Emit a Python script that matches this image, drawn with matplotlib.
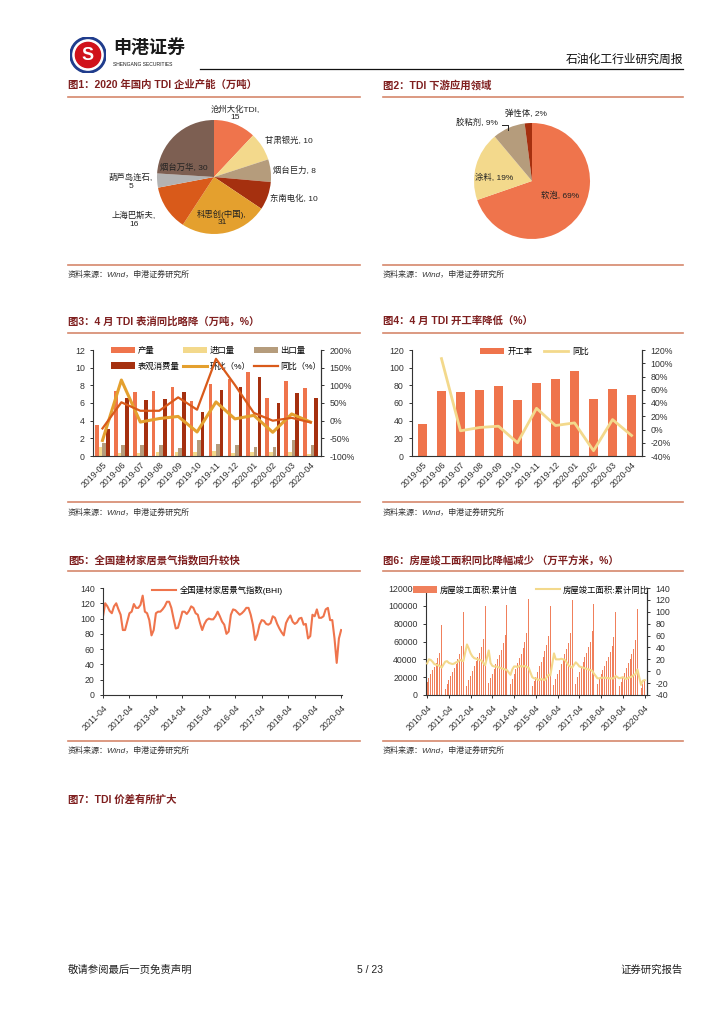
import numpy as np
import matplotlib
matplotlib.use('Agg')
import matplotlib.pyplot as plt
from matplotlib.lines import Line2D
from matplotlib.patches import Circle

plt.rcParams['font.family'] = ['Liberation Sans', 'Noto Sans CJK SC']
plt.rcParams['axes.unicode_minus'] = False

W, H = 724, 1024

# ---- data ----
cap_names = ['沧州大化TDI', '甘肃银光', '烟台巨力', '东南电化', '科思创(中国)', '上海巴斯夫', '葫芦岛连石', '烟台万华']
cap_vals = [15, 10, 8, 10, 31, 16, 5, 30]

use_names = ['软泡', '涂料', '胶粘剂', '弹性体']
use_vals = [69, 19, 9, 2]

months = ['2019-05', '2019-06', '2019-07', '2019-08', '2019-09', '2019-10',
          '2019-11', '2019-12', '2020-01', '2020-02', '2020-03', '2020-04']
output = [3.5, 7.4, 7.2, 7.4, 7.8, 6.2, 8.2, 8.7, 9.5, 6.6, 8.5, 7.7]
imports = [1.0, 0.3, 0.3, 0.4, 0.4, 0.5, 0.6, 0.3, 0.4, 0.4, 0.4, 0.2]
exports = [1.5, 1.2, 1.3, 1.2, 0.9, 1.8, 1.4, 1.2, 1.0, 1.0, 1.8, 1.2]
consumption = [3.1, 6.6, 6.3, 6.5, 7.3, 5.0, 7.5, 7.8, 8.9, 6.0, 7.1, 6.6]
mom = [-56, 115, -4, 6, 12, -32, 53, 5, 15, -33, 19, -4]
yoy = [-22, 52, 28, 28, 66, 31, 175, 101, 22, 0, 8, -5]

run_rate = [36, 74, 72, 75, 79, 63, 83, 87, 96, 65, 76, 69]
run_yoy = [np.nan, 107, -2, 3, 5, -20, 32, 6, 10, -32, 15, -9]

bhi_ticks = ['2011-04', '2012-04', '2013-04', '2014-04', '2015-04',
             '2016-04', '2017-04', '2018-04', '2019-04', '2020-04']
bhi = [103, 120, 116, 110, 107, 116, 120, 112, 105, 85, 85, 96,
       107, 109, 119, 114, 114, 118, 130, 109, 107, 98, 78, 85,
       107, 109, 109, 112, 116, 122, 122, 114, 100, 87, 88, 98,
       109, 109, 106, 110, 116, 114, 107, 105, 94, 85, 93, 98,
       100, 99, 99, 103, 109, 103, 96, 92, 80, 83, 105, 112,
       111, 108, 105, 107, 110, 114, 114, 105, 92, 72, 79, 92,
       98, 97, 93, 92, 94, 103, 101, 93, 87, 82, 78, 94,
       100, 104, 96, 93, 95, 100, 101, 92, 93, 74, 77, 105,
       103, 112, 101, 101, 103, 112, 114, 98, 98, 74, 42, 74,
       85]

area_ticks = ['2010-04', '2011-04', '2012-04', '2013-04', '2014-04', '2015-04',
              '2016-04', '2017-04', '2018-04', '2019-04', '2020-04']
area_2010 = [None, None, None, 15000, 19500, 24000, 27500, 31500, 36000, 41000, 47500, 78700]
area_2011 = [None, 7000, 12000, 17000, 21500, 26000, 30500, 35000, 40500, 46000, 55000, 92600]
area_2012 = [None, 10000, 17000, 21500, 27000, 32500, 38000, 42500, 47500, 54000, 62500, 99400]
area_2013 = [None, 13500, 19000, 24000, 29000, 35000, 40000, 45000, 51000, 58000, 67500, 101400]
area_2014 = [None, 12500, 18000, 23500, 29500, 35500, 41000, 46500, 52500, 59000, 69000, 107500]
area_2015 = [None, 10000, 16000, 20500, 26000, 32000, 37500, 42500, 49000, 56000, 66000, 100000]
area_2016 = [None, 11000, 18000, 23000, 28500, 34500, 40000, 45500, 51500, 58500, 70000, 106100]
area_2017 = [None, 12500, 20000, 25500, 31000, 37000, 42500, 47500, 53500, 60000, 72000, 101500]
area_2018 = [None, 12500, 18000, 23000, 28000, 33000, 38500, 43000, 48000, 54500, 64500, 93500]
area_2019 = [None, 10000, 15000, 19500, 24500, 30000, 35500, 40500, 45500, 52000, 62000, 96000]
area_2020 = [None, 7700, 12000, 16500]

ayoy_2010 = [None, None, None, 13, 20, 19, 16, 12, 11, 10, 9, 6]
ayoy_2011 = [None, 16, 17, 14, 13, 12, 13, 15, 16, 19, 18, 17]
ayoy_2012 = [None, 45, 38, 30, 25, 22, 21, 20, 19, 18, 14, 10]
ayoy_2013 = [None, 35, 14, 9, 8, 8, 7, 6, 5, 4, 3, 2]
ayoy_2014 = [None, -6, 3, 8, 8, 7, 9, 8, 8, 9, 7, 6]
ayoy_2015 = [None, -10, -12, -12, -14, -15, -13, -14, -15, -10, -6, -7]
ayoy_2016 = [None, 30, 20, 20, 20, 21, 20, 19, 15, 10, 8, 6]
ayoy_2017 = [None, 15, 12, 8, 7, 6, 5, 4, 3, 2, 1, -4]
ayoy_2018 = [None, -12, -12, -11, -11, -11, -11, -12, -12, -12, -12, -8]
ayoy_2019 = [None, -12, -11, -10, -12, -13, -11, -10, -9, -6, -5, 3]
ayoy_2020 = [None, -23, -16, -15]

# ---- colours ----
CORAL = '#EF744C'
YELLOW = '#F3D98C'
TAN = '#B59C7C'
DRED = '#A5300F'
GOLD = '#E4A02E'
ORANGE = '#D95A1A'
GRAY = '#B3B3B3'
BROWN = '#7D5F52'
TITLE_C = '#7F1F1F'
RULE_C = '#D6876C'
TXT = '#333333'

fig = plt.figure(figsize=(W / 100, H / 100), dpi=100)


def rect(l, t, r, b):
    return [l / W, 1 - b / H, (r - l) / W, (b - t) / H]


def ftext(x, y, s, **kw):
    kw.setdefault('va', 'center')
    fig.text(x / W, 1 - y / H, s, **kw)


def hline(x0, x1, y, color=RULE_C, lw=1.2):
    fig.add_artist(Line2D([x0 / W, x1 / W], [1 - y / H, 1 - y / H],
                          color=color, lw=lw, transform=fig.transFigure))


# ---- page header ----
lax = fig.add_axes(rect(70, 37, 106, 73))
lax.set_xlim(-1, 1)
lax.set_ylim(-1, 1)
lax.axis('off')
lax.add_patch(Circle((0, 0), 1.0, color='#1F3C8C'))
lax.add_patch(Circle((0, 0), 0.84, color='white'))
lax.add_patch(Circle((0, 0), 0.7, color='#D0121B'))
lax.text(0, -0.05, 'S', color='white', fontsize=13, fontweight='bold', ha='center', va='center')

ftext(113, 48, '申港证券', fontsize=13, fontweight='bold', color='#1a1a1a')
ftext(113, 64, 'SHENGANG SECURITIES', fontsize=3.6, color='#1a1a1a')
ftext(683, 60, '石油化工行业研究周报', fontsize=8.5, color='#111111', ha='right')
hline(200, 683, 69, color='#111111', lw=0.9)

# ---- section titles / rules / sources ----
titles = [
    (68, 85, '图1：2020 年国内 TDI 企业产能（万吨）'),
    (383, 85, '图2：TDI 下游应用领域'),
    (68, 322, '图3：4 月 TDI 表消同比略降（万吨，%）'),
    (383, 322, '图4：4 月 TDI 开工率降低（%）'),
    (68, 560, '图5：全国建材家居景气指数回升较快'),
    (383, 560, '图6：房屋竣工面积同比降幅减少 （万平方米，%）'),
    (68, 800, '图7：TDI 价差有所扩大'),
]
for x, y, s in titles:
    ftext(x, y, s, fontsize=7.5, fontweight='bold', color=TITLE_C)

for y in (97, 333, 571):
    hline(68, 360, y)
    hline(383, 683, y)
for y, sy in ((265, 275), (502, 513), (741, 751)):
    hline(68, 360, y)
    hline(383, 683, y)
    ftext(68, sy, '资料来源：Wind，申港证券研究所', fontsize=5.8, color=TXT, style='italic')
    ftext(383, sy, '资料来源：Wind，申港证券研究所', fontsize=5.8, color=TXT, style='italic')

# ---- footer ----
ftext(68, 970, '敬请参阅最后一页免责声明', fontsize=7.5, color='#222222')
ftext(370, 970, '5 / 23', fontsize=7.5, color='#222222', ha='center')
ftext(683, 970, '证券研究报告', fontsize=7.5, color='#222222', ha='right')

# ---- chart 1: pie ----
cx, cy, r = 214, 177, 57
ax1 = fig.add_axes(rect(cx - 140, cy - 80, cx + 140, cy + 80))
ax1.pie(cap_vals, colors=[CORAL, YELLOW, TAN, DRED, GOLD, ORANGE, GRAY, BROWN],
        startangle=90, counterclock=False, radius=1, wedgeprops=dict(linewidth=0))
ax1.set_xlim(-140 / r, 140 / r)
ax1.set_ylim(-80 / r, 80 / r)
lab1 = [
    (0.37, 1.12, 'center'), (0.89, 0.63, 'left'), (1.04, 0.10, 'left'), (0.98, -0.39, 'left'),
    (0.14, -0.72, 'center'), (-1.40, -0.75, 'center'), (-1.46, -0.09, 'center'), (-0.53, 0.16, 'center'),
]
two_line = {'沧州大化TDI', '科思创(中国)', '上海巴斯夫', '葫芦岛连石'}
for (lx, ly, ha), name, v in zip(lab1, cap_names, cap_vals):
    sep = ',\n' if name in two_line else ', '
    ax1.text(lx, ly, f'{name}{sep}{v}', fontsize=6, ha=ha, va='center',
             color='#222222', linespacing=1.15)

# ---- chart 2: pie ----
cx, cy, r = 532, 181, 58
ax2 = fig.add_axes(rect(cx - 140, cy - 80, cx + 140, cy + 80))
ax2.pie(use_vals, colors=[CORAL, YELLOW, TAN, DRED], startangle=90, counterclock=False,
        radius=1, wedgeprops=dict(linewidth=0))
ax2.set_xlim(-140 / r, 140 / r)
ax2.set_ylim(-80 / r, 80 / r)
lab2 = [(0.48, -0.26), (-0.655, 0.05), (-0.95, 1.0), (-0.10, 1.155)]
for (lx, ly), name, v in zip(lab2, use_names, use_vals):
    ax2.text(lx, ly, f'{name}, {v}%', fontsize=6, ha='center', va='center', color='#222222')
ax2.plot([-0.52, -0.41, -0.41], [0.96, 0.96, 0.88], color='#222222', lw=0.7)


def style_axes(ax, right=None):
    for s in ('top',):
        ax.spines[s].set_visible(False)
    for s in ('left', 'bottom', 'right'):
        ax.spines[s].set_color(TXT)
        ax.spines[s].set_linewidth(0.8)
    ax.tick_params(labelsize=6.3, colors=TXT, length=2.5, width=0.7)


# ---- chart 3 ----
x = np.arange(len(months))
bw = 0.19
ax3 = fig.add_axes(rect(93, 350, 321, 456))
b1 = ax3.bar(x - 1.55 * bw, output, bw, color=CORAL, label='产量')
b2 = ax3.bar(x - 0.5 * bw, imports, bw, color=YELLOW, label='进口量')
b3 = ax3.bar(x + 0.5 * bw, exports, bw, color=TAN, label='出口量')
b4 = ax3.bar(x + 1.55 * bw, consumption, bw, color=DRED, label='表观消费量')
ax3.set_ylim(0, 12)
ax3.set_yticks(range(0, 13, 2))
ax3.set_xlim(-0.5, 11.55)
ax3.set_xticks(x)
ax3.set_xticklabels(months, rotation=45, ha='right', rotation_mode='anchor')
style_axes(ax3)
ax3.tick_params(axis='x', length=0, pad=3)
ax3b = ax3.twinx()
l1, = ax3b.plot(x, mom, color=GOLD, lw=2.2, label='环比（%）')
l2, = ax3b.plot(x, yoy, color=ORANGE, lw=1.6, label='同比（%）')
ax3b.set_ylim(-100, 200)
ax3b.set_yticks(range(-100, 201, 50))
ax3b.set_yticklabels([f'{v}%' for v in range(-100, 201, 50)])
style_axes(ax3b)
ax3b.spines['left'].set_visible(False)
ax3b.spines['bottom'].set_visible(False)
ax3.legend([b1, b4, b2, l1, b3, l2],
           ['产量', '表观消费量', '进口量', '环比（%）', '出口量', '同比（%）'],
           ncol=3, loc='upper left', bbox_to_anchor=(18 / 228, 1.03), frameon=False,
           fontsize=6, handlelength=2.9, handleheight=0.8, handletextpad=0.3,
           columnspacing=0.4, labelspacing=0.9, borderpad=0, borderaxespad=0)
ax3.set_zorder(ax3b.get_zorder() + 1)
ax3.patch.set_visible(False)
# lines over bars: redraw lines in front by keeping twin axis behind but lines drawn on top
ax3.set_zorder(0)
ax3b.set_zorder(1)
ax3b.patch.set_visible(False)

# ---- chart 4 ----
ax4 = fig.add_axes(rect(412, 350, 642, 456))
bb = ax4.bar(x, run_rate, 0.45, color=CORAL, label='开工率')
ax4.set_ylim(0, 120)
ax4.set_yticks(range(0, 121, 20))
ax4.set_xlim(-0.55, 11.55)
ax4.set_xticks(x)
ax4.set_xticklabels(months, rotation=45, ha='right', rotation_mode='anchor')
style_axes(ax4)
ax4.tick_params(axis='x', length=0, pad=3)
ax4b = ax4.twinx()
ll, = ax4b.plot(x, run_yoy, color=YELLOW, lw=2.0, label='同比')
ax4b.set_ylim(-40, 120)
ax4b.set_yticks(range(-40, 121, 20))
ax4b.set_yticklabels([f'{v}%' for v in range(-40, 121, 20)])
style_axes(ax4b)
ax4b.spines['left'].set_visible(False)
ax4b.spines['bottom'].set_visible(False)
ax4b.legend([bb, ll], ['开工率', '同比'], ncol=2, loc='upper left',
            bbox_to_anchor=(68 / 230, 1.02), frameon=False, fontsize=6,
            handlelength=2.9, handleheight=0.8, handletextpad=0.4, columnspacing=1.4,
            borderpad=0, borderaxespad=0)

# ---- chart 5 ----
ax5 = fig.add_axes(rect(103, 588, 342, 695))
t5 = np.arange(len(bhi))
ax5.plot(t5, bhi, color=CORAL, lw=1.5, label='全国建材家居景气指数(BHI)')
ax5.set_xlim(0, len(bhi) - 0.6)
ax5.set_ylim(0, 140)
ax5.set_yticks(range(0, 141, 20))
ax5.set_xticks(np.arange(0, len(bhi), 12))
ax5.set_xticklabels(bhi_ticks, rotation=45, ha='right', rotation_mode='anchor')
style_axes(ax5)
ax5.spines['right'].set_visible(False)
ax5.legend(loc='upper left', bbox_to_anchor=(49 / 239, 1.02), frameon=False, fontsize=6,
           handlelength=2.9, handletextpad=0.4, borderpad=0, borderaxespad=0)

# ---- chart 6 ----
area = area_2010 + area_2011 + area_2012 + area_2013 + area_2014 + area_2015 + \
    area_2016 + area_2017 + area_2018 + area_2019 + area_2020
ayoy = ayoy_2010 + ayoy_2011 + ayoy_2012 + ayoy_2013 + ayoy_2014 + ayoy_2015 + \
    ayoy_2016 + ayoy_2017 + ayoy_2018 + ayoy_2019 + ayoy_2020
area = np.array([np.nan if v is None else v for v in area[3:]], dtype=float)
ayoy = np.array([np.nan if v is None else v for v in ayoy[3:]], dtype=float)
t6 = np.arange(len(area))

ax6 = fig.add_axes(rect(426, 588, 647, 695))
b6 = ax6.bar(t6, np.nan_to_num(area), 0.55, color='#F0805C', label='房屋竣工面积:累计值')
ax6.set_ylim(0, 120000)
ax6.set_yticks(range(0, 120001, 20000))
ax6.set_xlim(-0.6, len(area) + 0.3)
ax6.set_xticks(np.arange(0, len(area), 12))
ax6.set_xticklabels(area_ticks, rotation=45, ha='right', rotation_mode='anchor')
style_axes(ax6)
ax6b = ax6.twinx()
ok = ~np.isnan(ayoy)
l6, = ax6b.plot(t6[ok], ayoy[ok], color=YELLOW, lw=1.5, label='房屋竣工面积:累计同比')
ax6b.set_ylim(-40, 140)
ax6b.set_yticks(range(-40, 141, 20))
style_axes(ax6b)
ax6b.spines['left'].set_visible(False)
ax6b.spines['bottom'].set_visible(False)
ax6b.legend([b6, l6], ['房屋竣工面积:累计值', '房屋竣工面积:累计同比'], ncol=2,
            loc='upper left', bbox_to_anchor=(-13 / 221, 1.02), frameon=False, fontsize=6,
            handlelength=2.9, handleheight=0.8, handletextpad=0.3, columnspacing=2.2,
            borderpad=0, borderaxespad=0)

fig.savefig('out.png', dpi=100)
